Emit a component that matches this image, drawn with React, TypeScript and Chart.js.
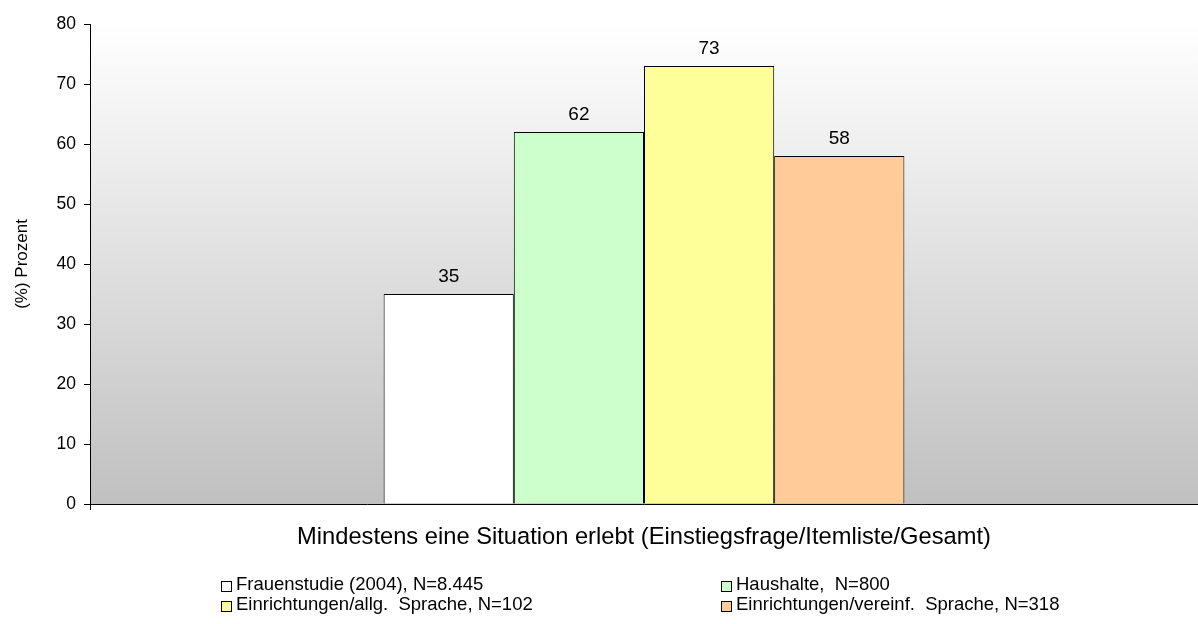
import React, { useEffect, useRef } from "react";
import { Chart, registerables } from "chart.js";

Chart.register(...registerables);

const categories = ["Mindestens eine Situation erlebt (Einstiegsfrage/Itemliste/Gesamt)"];
const seriesNames = [
  "Frauenstudie (2004), N=8.445",
  "Haushalte,  N=800",
  "Einrichtungen/allg.  Sprache, N=102",
  "Einrichtungen/vereinf.  Sprache, N=318",
];
const seriesValues = [[35], [62], [73], [58]];
const seriesColors = ["#ffffff", "#ccffcc", "#ffff99", "#ffcc99"];
const yTicks = [0, 10, 20, 30, 40, 50, 60, 70, 80];

const FONT = "'Liberation Sans', Arial, sans-serif";

const bgPlugin = {
  id: "bgGradient",
  beforeDraw(chart: any) {
    const { ctx, chartArea } = chart;
    if (!chartArea) return;
    const g = ctx.createLinearGradient(0, chartArea.top, 0, chartArea.bottom);
    g.addColorStop(0, "#ffffff");
    g.addColorStop(1, "#c0c0c0");
    ctx.save();
    ctx.fillStyle = g;
    ctx.fillRect(chartArea.left, chartArea.top, chart.width - chartArea.left, chartArea.bottom - chartArea.top);
    ctx.restore();
  },
};

const labelPlugin = {
  id: "valueLabels",
  afterDatasetsDraw(chart: any) {
    const { ctx } = chart;
    ctx.save();
    ctx.font = `19px ${FONT}`;
    ctx.fillStyle = "#000";
    ctx.textAlign = "center";
    ctx.textBaseline = "alphabetic";
    chart.data.datasets.forEach((ds: any, i: number) => {
      const meta = chart.getDatasetMeta(i);
      meta.data.forEach((bar: any, j: number) => {
        ctx.fillText(String(ds.data[j]), bar.x, bar.y - 12);
      });
    });
    ctx.restore();
  },
};

const legendPlugin = {
  id: "customLegend",
  afterDraw(chart: any) {
    const { ctx } = chart;
    const cols = [221, 721];
    const rows = [586, 606];
    ctx.save();
    ctx.font = `18.5px ${FONT}`;
    ctx.textBaseline = "middle";
    ctx.textAlign = "left";
    chart.data.datasets.forEach((ds: any, i: number) => {
      const x = cols[i % 2];
      const y = rows[Math.floor(i / 2)];
      ctx.fillStyle = ds.backgroundColor;
      ctx.fillRect(x, y - 5, 10, 10);
      ctx.strokeStyle = "#000";
      ctx.lineWidth = 1;
      ctx.strokeRect(x + 0.5, y - 4.5, 10, 10);
      ctx.fillStyle = "#000";
      ctx.fillText(ds.label, x + 15, y - 1);
    });
    ctx.restore();
  },
};

export default function App() {
  const ref = useRef<HTMLCanvasElement>(null);
  useEffect(() => {
    document.body.style.margin = "0";
    const chart = new Chart(ref.current!, {
      type: "bar",
      data: {
        labels: categories,
        datasets: seriesNames.map((name, i) => ({
          label: name,
          data: seriesValues[i],
          backgroundColor: seriesColors[i],
          borderColor: "#000",
          borderWidth: 1,
          categoryPercentage: 0.47,
          barPercentage: 1,
        })),
      },
      options: {
        animation: false,
        responsive: false,
        maintainAspectRatio: false,
        layout: { padding: { top: 24, right: -8, left: 0, bottom: 0 } },
        plugins: { legend: { display: false }, tooltip: { enabled: false } },
        scales: {
          x: {
            grid: { display: true, drawOnChartArea: false, drawTicks: true, tickLength: 6, color: "#000", offset: true },
            border: { color: "#000", width: 1 },
            ticks: { color: "#000", font: { size: 23.7, family: FONT }, padding: 13 },
            afterFit: (s: any) => { s.height = 120; },
          },
          y: {
            min: 0,
            max: 80,
            afterBuildTicks: (s: any) => { s.ticks = yTicks.map((v) => ({ value: v })); },
            grid: { display: true, drawOnChartArea: false, drawTicks: true, tickLength: 6, color: "#000" },
            border: { color: "#000", width: 1 },
            ticks: { color: "#000", font: { size: 17.5, family: FONT }, padding: 8 },
            title: { display: true, text: "(%) Prozent", color: "#000", font: { size: 17, family: FONT }, padding: { top: 12, bottom: 0 } },
            afterFit: (s: any) => { s.width = 90; },
          },
        },
      },
      plugins: [bgPlugin, labelPlugin, legendPlugin],
    });
    return () => chart.destroy();
  }, []);
  return (
    <div style={{ width: 1198, height: 624 }}>
      <canvas ref={ref} width={1198} height={624} style={{ display: "block" }} />
    </div>
  );
}
